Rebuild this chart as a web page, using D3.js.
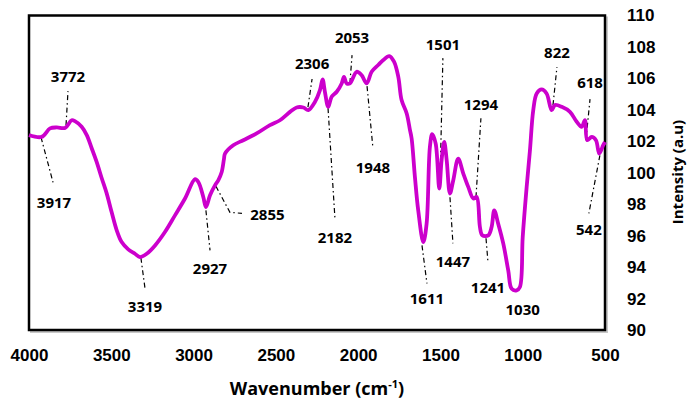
<!DOCTYPE html>
<html>
<head>
<meta charset="utf-8">
<script src="https://cdn.jsdelivr.net/npm/d3@7"></script>
<style>
  html, body { margin: 0; padding: 0; background: #fff; }
  svg { display: block; font-family: "Open Sans", Lato, sans-serif; font-weight: bold; }
</style>
</head>
<body>
<svg id="chart" width="688" height="403"></svg>
<script>
// FTIR spectrum
const wavenumber = [
  4000, 3923, 3872, 3832, 3781, 3741, 3721, 3680, 3649, 3619,
  3589, 3558, 3528, 3498, 3467, 3437, 3397, 3356, 3326, 3285,
  3234, 3174, 3113, 3052, 2991, 2971, 2941, 2925, 2900, 2870,
  2850, 2829, 2815, 2809, 2759, 2698, 2617, 2536, 2475, 2414,
  2374, 2333, 2303, 2262, 2232, 2216, 2202, 2182, 2161, 2130,
  2100, 2086, 2070, 2050, 2009, 1979, 1948, 1918, 1878, 1847,
  1811, 1782, 1756, 1736, 1705, 1685, 1675, 1655, 1635, 1604,
  1584, 1564, 1550, 1529, 1507, 1493, 1477, 1462, 1442, 1422,
  1392, 1361, 1331, 1300, 1280, 1260, 1246, 1209, 1189, 1173,
  1149, 1118, 1088, 1067, 1037, 1017, 1000, 976, 956, 936,
  915, 885, 855, 824, 804, 763, 713, 672, 642, 622,
  608, 581, 555, 535, 511, 500
];
const intensity = [
  102.39, 102.28, 102.82, 102.88, 102.85, 103.34, 103.28, 102.92, 102.39, 101.56,
  100.69, 99.65, 98.69, 97.50, 96.34, 95.59, 95.13, 94.85, 94.64, 94.85,
  95.38, 96.23, 97.29, 98.36, 99.59, 99.41, 98.46, 97.82, 98.57, 99.20,
  99.52, 100.05, 100.90, 101.22, 101.75, 102.07, 102.50, 103.03, 103.34, 103.87,
  104.15, 104.15, 103.98, 104.51, 105.25, 105.94, 105.15, 104.19, 104.83, 105.15,
  105.68, 106.10, 105.68, 105.68, 106.42, 106.21, 105.68, 106.42, 106.85, 107.17,
  107.42, 107.06, 106.10, 104.62, 103.77, 102.71, 102.18, 99.73, 97.61, 95.59,
  96.76, 101.64, 102.45, 101.86, 98.99, 100.80, 101.96, 100.80, 98.68, 99.52,
  100.90, 99.95, 99.10, 98.36, 98.46, 96.55, 96.02, 96.02, 96.55, 97.61,
  96.76, 95.49, 93.79, 92.62, 92.52, 92.73, 95.91, 99.10, 101.43, 103.98,
  105.04, 105.30, 105.04, 103.98, 104.30, 104.19, 103.87, 103.24, 102.92, 103.34,
  102.07, 102.28, 102.07, 101.22, 101.75, 101.96
];

const xTicks = [4000, 3500, 3000, 2500, 2000, 1500, 1000, 500];
const yTicks = [90, 92, 94, 96, 98, 100, 102, 104, 106, 108, 110];

// peak labels: text, label anchor (wn, I), leader from (wn, I) to (wn, I)
const peakLabels = ["3917", "3772", "3319", "2927", "2855", "2306", "2182", "2053", "1948",
                    "1501", "1611", "1447", "1294", "1241", "1030", "822", "618", "542"];
const labelAt = [
  [3848, 98.12], [3763, 106.15], [3295, 91.50], [2900, 93.92], [2551, 97.36],
  [2280, 107.01], [2141, 95.92], [2037, 108.66], [1910, 100.35], [1485, 108.18],
  [1582, 92.01], [1424, 94.36], [1254, 104.36], [1211, 92.74], [1000, 91.31],
  [792, 107.71], [591, 105.80], [598, 96.40]
];
const leaders = [
  [[3927, 102.26], [3854, 99.39]],
  [[3775, 103.03], [3763, 105.19]],
  [[3320, 94.59], [3295, 92.64]],
  [[2925, 97.61], [2900, 95.06]],
  [[2864, 99.14], [2779, 97.48], [2706, 97.42]],
  [[2305, 104.17], [2280, 105.96]],
  [[2183, 104.11], [2141, 97.10]],
  [[2050, 105.70], [2037, 107.48]],
  [[1946, 105.51], [1910, 101.56]],
  [[1503, 99.20], [1485, 107.29]],
  [[1612, 95.38], [1582, 92.96]],
  [[1442, 98.44], [1424, 95.51]],
  [[1284, 98.44], [1254, 103.47]],
  [[1223, 95.83], [1211, 94.30]],
  [],
  [[816, 104.30], [792, 106.72]],
  [[616, 102.07], [591, 104.68]],
  [[531, 101.11], [598, 97.42]]
];

const svg = d3.select("#chart");
const plot = { left: 29, right: 605, top: 15.5, bottom: 330 };

const x = d3.scaleLinear().domain([4000, 500]).range([plot.left, plot.right]);
const y = d3.scaleLinear().domain([90, 110]).range([plot.bottom, plot.top]);

// plot frame with light shadow on the right/bottom
svg.append("rect")
  .attr("x", plot.left + 2).attr("y", plot.top + 2)
  .attr("width", plot.right - plot.left).attr("height", plot.bottom - plot.top)
  .attr("fill", "none").attr("stroke", "#c8c8c8").attr("stroke-width", 2);
svg.append("rect")
  .attr("x", plot.left).attr("y", plot.top)
  .attr("width", plot.right - plot.left).attr("height", plot.bottom - plot.top)
  .attr("fill", "#fff").attr("stroke", "#000").attr("stroke-width", 2.5);

// leaders
const leaderLine = d3.line().x(d => x(d[0])).y(d => y(d[1]));
svg.append("g").selectAll("path")
  .data(leaders.filter(l => l.length))
  .join("path")
  .attr("d", leaderLine)
  .attr("fill", "none")
  .attr("stroke", "#000")
  .attr("stroke-width", 1.2)
  .attr("stroke-dasharray", "5,3,1.5,3");

// spectrum
const pts = wavenumber.map((w, i) => [w, intensity[i]]);
svg.append("path")
  .datum(pts)
  .attr("d", d3.line().x(d => x(d[0])).y(d => y(d[1])).curve(d3.curveCatmullRom.alpha(0.5)))
  .attr("fill", "none")
  .attr("stroke", "#cc00cc")
  .attr("stroke-width", 3.8)
  .attr("stroke-linejoin", "round");

// peak labels
svg.append("g").selectAll("text")
  .data(peakLabels)
  .join("text")
  .attr("x", (d, i) => x(labelAt[i][0]))
  .attr("y", (d, i) => y(labelAt[i][1]))
  .attr("text-anchor", "middle")
  .attr("dominant-baseline", "central")
  .attr("font-size", 15)
  .text(d => d);

// axes
const xAxis = svg.append("g")
  .attr("transform", `translate(0,${plot.bottom})`)
  .call(d3.axisBottom(x).tickValues(xTicks).tickSize(0).tickPadding(19).tickFormat(d3.format("d")));
xAxis.select(".domain").remove();
xAxis.selectAll("text").attr("font-size", 17).attr("font-family", null).attr("fill", "#000");

const yAxis = svg.append("g")
  .attr("transform", `translate(${plot.right},0)`)
  .call(d3.axisRight(y).tickValues(yTicks).tickSize(0).tickPadding(22).tickFormat(d3.format("d")));
yAxis.select(".domain").remove();
yAxis.selectAll("text").attr("font-size", 17).attr("font-family", null).attr("fill", "#000");

// axis titles
const xt = svg.append("text")
  .attr("x", 317).attr("y", 395)
  .attr("text-anchor", "middle")
  .attr("font-size", 18);
xt.append("tspan").text("Wavenumber (cm");
xt.append("tspan").attr("font-size", 11).attr("dy", -7).text("-1");
xt.append("tspan").attr("dy", 7).text(")");

svg.append("text")
  .attr("transform", "translate(683,172) rotate(-90)")
  .attr("text-anchor", "middle")
  .attr("font-size", 15)
  .text("Intensity (a.u)");
</script>
</body>
</html>
